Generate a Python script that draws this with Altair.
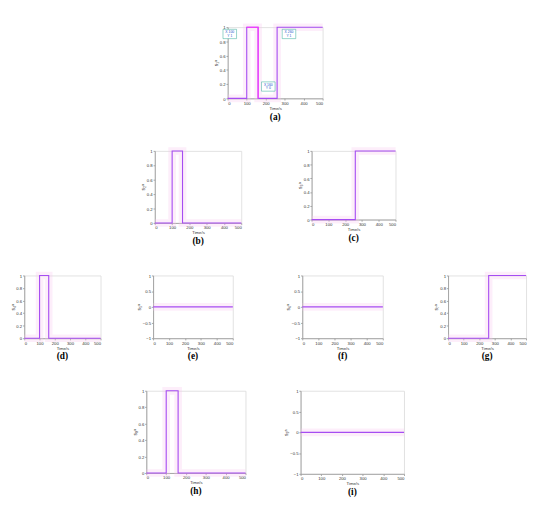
import altair as alt
import pandas as pd

times = [0, 100, 160, 260, 500]
panel_values = {
    "a": [0, 1, 0, 1, 1],
    "b": [0, 1, 0, 0, 0],
    "c": [0, 0, 0, 1, 1],
    "d": [0, 1, 0, 0, 0],
    "e": [0, 0, 0, 0, 0],
    "f": [0, 0, 0, 0, 0],
    "g": [0, 0, 0, 1, 1],
    "h": [0, 1, 0, 0, 0],
    "i": [0, 0, 0, 0, 0],
}
y_titles = {
    "a": "s₁ᵃ", "b": "s₂ᵃ", "c": "s₃ᵃ", "d": "s₄ᵃ", "e": "s₅ᵃ",
    "f": "s₆ᵃ", "g": "s₇ᵃ", "h": "s₈ᵃ", "i": "s₉ᵃ",
}
sym_panels = ["e", "f", "i"]

mag_t = [100, 160, 160]
mag_v = [1, 1, 0]
tip_x = [100, 160, 260]
tip_y = [1, 0, 1]
tip_dx = [-20, 12, 14]
tip_dy = [8, -14, 8]

PURPLE = "#a64df2"
MAGENTA = "#ff33ff"
PINK = "#f9c8f0"

sizes = {
    "a": (112, 84), "b": (102, 85), "c": (99, 81),
    "d": (90, 74), "e": (94, 74), "f": (95, 74), "g": (92, 74),
    "h": (117, 97), "i": (122, 98),
}


def panel(key):
    w, h = sizes[key]
    df = pd.DataFrame({"t": times, "v": panel_values[key], "o": range(len(times))})
    if key in sym_panels:
        ydom = [-1, 1]
        yticks = [-1, -0.5, 0, 0.5, 1]
    else:
        ydom = [0, 1]
        yticks = [0, 0.2, 0.4, 0.6, 0.8, 1]
    xs = alt.X("t:Q", scale=alt.Scale(domain=[0, 500], nice=False),
               axis=alt.Axis(values=[0, 100, 200, 300, 400, 500], title="Time/s",
                             format="d",
                             labelFontSize=5, titleFontSize=5, titleFontWeight="normal",
                             tickSize=2, titlePadding=1, labelPadding=1, grid=False,
                             domainColor="#999999", tickColor="#999999",
                             labelColor="#333333", titleColor="#333333"))
    ys = alt.Y("v:Q", scale=alt.Scale(domain=ydom, nice=False),
               axis=alt.Axis(values=yticks, title=y_titles[key], format="~g",
                             labelFontSize=5, titleFontSize=6, titleFontWeight="normal",
                             tickSize=2, titlePadding=1, labelPadding=1, grid=False,
                             domainColor="#999999", tickColor="#999999",
                             labelColor="#333333", titleColor="#333333"))
    band = alt.Chart(df).mark_line(interpolate="step-after", color=PINK,
                                   strokeWidth=9, opacity=0.3).encode(x=xs, y=ys, order="o:Q")
    line = alt.Chart(df).mark_line(interpolate="step-after", color=PURPLE,
                                   strokeWidth=1.3).encode(x=xs, y=ys, order="o:Q")
    layers = [band, line]
    if key == "a":
        mdf = pd.DataFrame({"t": mag_t, "v": mag_v, "o": range(len(mag_t))})
        layers.append(alt.Chart(mdf).mark_line(color=MAGENTA, strokeWidth=1.3)
                      .encode(x=xs, y=ys, order="o:Q"))
        tdf = pd.DataFrame({"t": tip_x, "v": tip_y,
                            "lx": [f"X {x}" for x in tip_x],
                            "ly": [f"Y {y}" for y in tip_y]})
        for i in range(len(tip_x)):
            one = tdf.iloc[[i]]
            dx, dy = tip_dx[i], tip_dy[i]
            layers.append(alt.Chart(one).mark_rect(
                width=16, height=11, fill="white", stroke="#33aa99", strokeWidth=0.6,
                xOffset=dx, yOffset=dy).encode(x=xs, y=ys))
            layers.append(alt.Chart(one).mark_text(
                fontSize=4, color="#2255cc", align="center", baseline="middle",
                dx=dx, dy=dy - 2).encode(x=xs, y=ys, text="lx:N"))
            layers.append(alt.Chart(one).mark_text(
                fontSize=4, color="#2255cc", align="center", baseline="middle",
                dx=dx, dy=dy + 2.5).encode(x=xs, y=ys, text="ly:N"))
    lab = alt.Chart(pd.DataFrame({"lab": [f"({key})"]})).mark_text(
        font="Liberation Serif", fontSize=11, fontWeight="bold", color="#000000",
        align="center", baseline="middle").encode(
        x=alt.value(w / 2), y=alt.value(h + 22), text="lab:N")
    layers.append(lab)
    return alt.layer(*layers).properties(width=w, height=h)


row1 = panel("a")
row2 = alt.hconcat(panel("b"), panel("c"), spacing=45)
row3 = alt.hconcat(
    alt.hconcat(panel("d"), panel("e"), spacing=22),
    alt.hconcat(panel("f"), panel("g"), spacing=39),
    spacing=42,
)
row4 = alt.hconcat(panel("h"), panel("i"), spacing=25)

chart = alt.vconcat(row1, row2, row3, row4, spacing=15, center=True).properties(
    padding={"top": -44, "left": 0, "right": 0, "bottom": 0}
).configure_view(stroke="#999999", strokeWidth=0.8).configure(background="white")

chart.save("out.html", embed_options={"renderer": "svg", "actions": False})
